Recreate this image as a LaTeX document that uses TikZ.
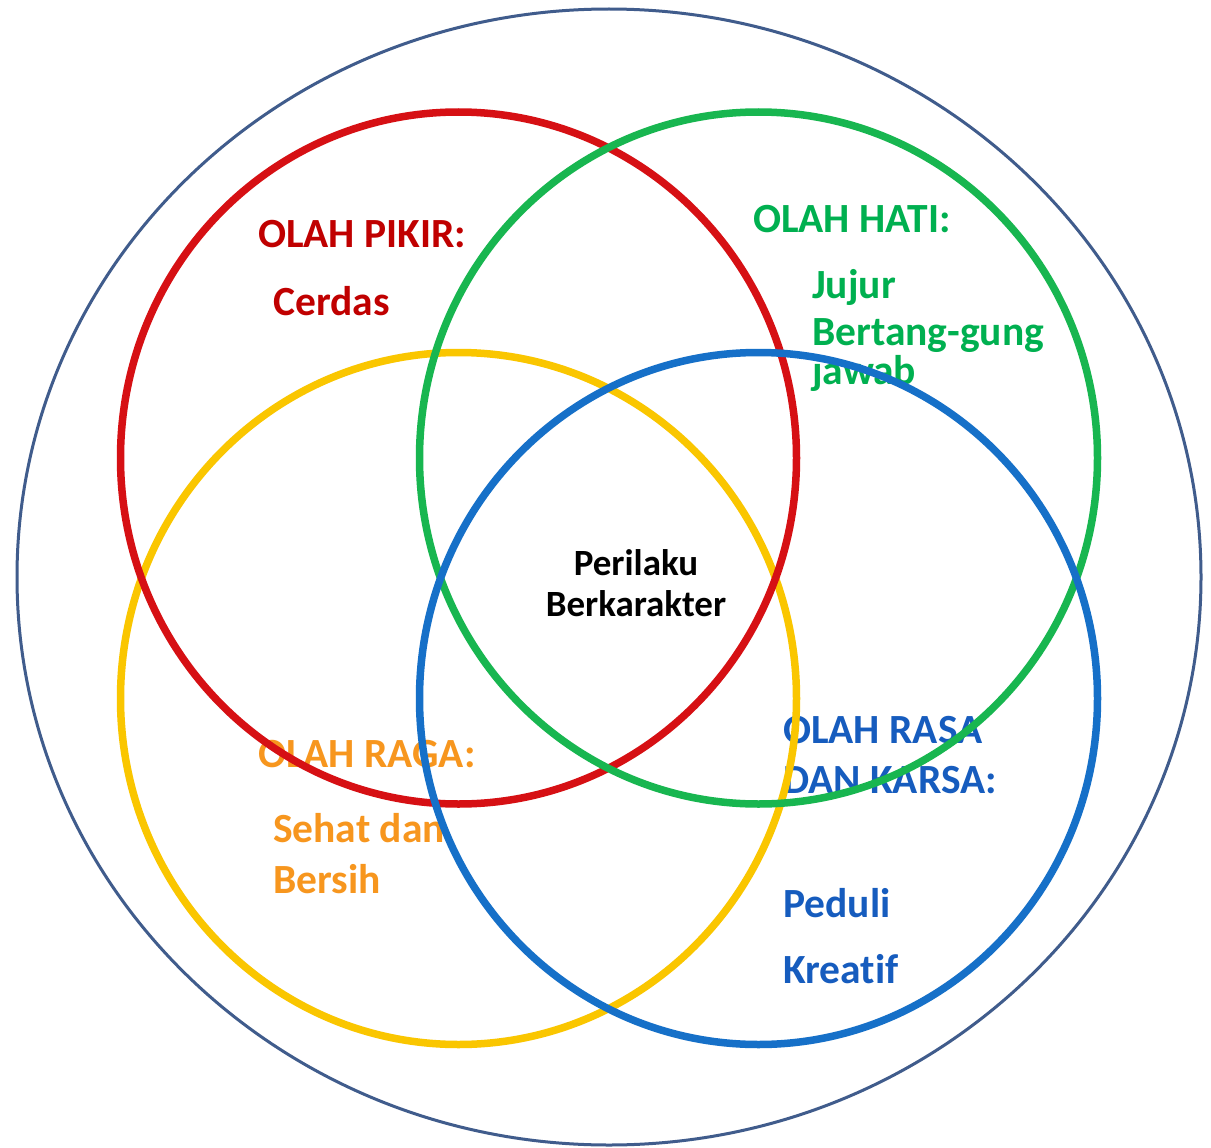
\documentclass[tikz,border=0pt]{standalone}
\usepackage{fontspec}
\setmainfont{Carlito}[Ligatures=CommonOff]
\definecolor{tred}{RGB}{192,0,0}
\definecolor{tgreen}{RGB}{0,176,80}
\definecolor{torange}{RGB}{247,150,30}
\definecolor{tblue}{RGB}{22,92,190}
\definecolor{rred}{RGB}{214,16,20}
\definecolor{rgreen}{RGB}{24,182,80}
\definecolor{ryellow}{RGB}{250,198,0}
\definecolor{rblue}{RGB}{22,112,200}
\definecolor{outer}{RGB}{64,92,140}
\begin{document}
\begin{tikzpicture}[x=1pt,y=-1pt,
  lbl/.style={anchor=base west,inner sep=0pt,font=\fontsize{41.5}{46}\selectfont\bfseries},
  ctr/.style={anchor=base,inner sep=0pt,font=\fontsize{37}{40}\selectfont\bfseries},
  ring/.style={line width=7.5pt}]
\useasboundingbox (0,0) rectangle (1211,1148);
\fill[white] (0,0) rectangle (1211,1148);
\draw[outer,line width=3pt] (609,577) ellipse [x radius=592, y radius=568];
% texts
\node[lbl,text=tred] (pikir) at (258,247) {OLAH PIKIR:};
\node[lbl,text=tred] (cerdas) at (273,315) {Cerdas};
\node[lbl,text=tgreen] (hati) at (753,232) {OLAH HATI:};
\node[lbl,text=tgreen] (jujur) at (812,298) {Jujur};
\node[lbl,text=tgreen] (bert) at (812,345) {Bertang-gung};
\node[lbl,text=tgreen] (jawab) at (812,384) {jawab};
\node[lbl,text=torange] (raga) at (258,767) {OLAH RAGA:};
\node[lbl,text=torange] (sehat) at (273,842) {Sehat dan};
\node[lbl,text=torange] (bersih) at (273,893) {Bersih};
\node[lbl,text=tblue] (rasa) at (783,743) {OLAH RASA};
\node[lbl,text=tblue] (karsa) at (783,793) {DAN KARSA:};
\node[lbl,text=tblue] (peduli) at (783,917) {Peduli};
\node[lbl,text=tblue] (kreatif) at (783,983) {Kreatif};
\node[ctr] (peri) at (636,575) {Perilaku};
\node[ctr] (berk) at (636,616) {Berkarakter};
% rings
\draw[ring,ryellow] (458.5,698.5) ellipse [x radius=338, y radius=346];
\draw[ring,rred] (458.5,458) ellipse [x radius=338, y radius=346];
\draw[ring,rgreen] (758.5,458) ellipse [x radius=339, y radius=346];
\draw[ring,rblue] (758.5,698.5) ellipse [x radius=339, y radius=346];
\end{tikzpicture}
\end{document}
